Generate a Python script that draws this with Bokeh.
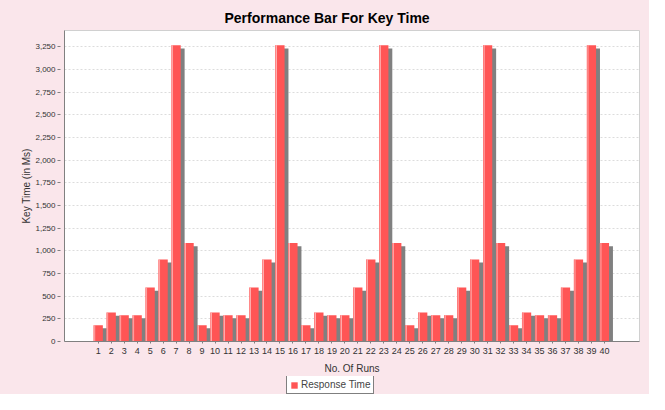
from bokeh.plotting import figure
from bokeh.models import (ColumnDataSource, Range1d, FixedTicker, NumeralTickFormatter,
                          Legend, LegendItem, Title)
from bokeh.layouts import column
from bokeh.transform import dodge
from bokeh.embed import file_html
from bokeh.resources import INLINE

# ---- data ----
runs = list(range(1, 41))
response_time = [
    180, 320, 290, 290, 595, 905, 3265, 1085,
    180, 320, 290, 290, 595, 905, 3265, 1085,
    180, 320, 290, 290, 595, 905, 3265, 1085,
    180, 320, 290, 290, 595, 905, 3265, 1085,
    180, 320, 290, 290, 595, 905, 3265, 1085,
]
y_ticks = list(range(0, 3251, 250))
title_text = "Performance Bar For Key Time"
x_label = "No. Of Runs"
y_label = "Key Time (in Ms)"
series_name = "Response Time"

# ---- styling ----
BG = "#FAE6EB"
RED = "#FF5555"
FONT = "Liberation Sans"
y_max = 3428
shadow_drop = 35  # ms equivalent of ~3px shadow drop
W = 649

src = ColumnDataSource(dict(
    x=runs,
    top=response_time,
    shadow_top=[v - shadow_drop for v in response_time],
))

p = figure(width=W, height=376, output_backend="svg", toolbar_location=None,
           x_range=Range1d(-1.6, 42.7), y_range=Range1d(0, y_max),
           background_fill_color="white", border_fill_color=BG,
           outline_line_color="#D0D0D0",
           min_border_left=64, min_border_right=10, min_border_top=30, min_border_bottom=34)

p.add_layout(Title(text=title_text, text_font=FONT, text_font_size="14px",
                   text_font_style="bold", align="left", offset=160,
                   text_color="black"), "above")

bw = 0.71
# shadow
p.vbar(x=dodge("x", 0.3), top="shadow_top", bottom=0, width=bw, source=src,
       fill_color="#808080", line_color=None)
# main bar
p.vbar(x="x", top="top", bottom=0, width=bw, source=src,
       fill_color=RED, line_color=None)
# highlight stripe (gradient look)
p.vbar(x=dodge("x", -0.27), top="top", bottom=0, width=0.06, source=src,
       fill_color="#FFC8C8", line_color=None)
p.vbar(x=dodge("x", -0.33), top="top", bottom=0, width=0.05, source=src,
       fill_color="#FF8080", line_color=None)

# axes
p.xaxis.ticker = FixedTicker(ticks=runs)
p.yaxis.ticker = FixedTicker(ticks=y_ticks)
p.yaxis.formatter = NumeralTickFormatter(format="0,0")
p.xaxis.axis_label = x_label
p.yaxis.axis_label = y_label
for ax in (p.xaxis, p.yaxis):
    ax.axis_line_color = "#808080"
    ax.major_tick_line_color = "#808080"
    ax.minor_tick_line_color = None
    ax.major_tick_out = 2
    ax.major_tick_in = 0
    ax.major_label_text_font = FONT
    ax.major_label_text_color = "#333333"
    ax.axis_label_text_font = FONT
    ax.axis_label_text_font_size = "10px"
    ax.axis_label_text_font_style = "normal"
    ax.axis_label_text_color = "#333333"
p.xaxis.major_label_text_font_size = "9px"
p.yaxis.major_label_text_font_size = "8px"
p.yaxis.major_tick_out = 7
p.yaxis.major_tick_in = -4
p.xaxis.major_label_standoff = 4
p.xaxis.axis_label_standoff = 6
p.yaxis.major_label_standoff = 2
p.yaxis.axis_label_standoff = 0

p.xgrid.grid_line_color = None
p.ygrid.ticker = FixedTicker(ticks=y_ticks)
p.ygrid.grid_line_color = "#DCDCDC"
p.ygrid.grid_line_dash = "2 2"
p.ygrid.grid_line_width = 1

# ---- legend strip (key renderer hidden; only its legend swatch is shown) ----
lg = figure(width=W, height=18, output_backend="svg", toolbar_location=None,
            x_range=Range1d(-1.6, 42.7), y_range=Range1d(0, 1),
            background_fill_color=BG, border_fill_color=BG, outline_line_color=None,
            min_border=0)
lg.xaxis.visible = False
lg.yaxis.visible = False
lg.grid.grid_line_color = None
r_key = lg.vbar(x="x", top="top", bottom=0, width=bw, source=src,
                fill_color=RED, line_color=None)
r_key.visible = False
legend = Legend(items=[LegendItem(label=series_name, renderers=[r_key])],
                orientation="horizontal", location=(222, 0),
                border_line_color="black", border_line_width=1,
                background_fill_color="white", background_fill_alpha=1,
                inactive_fill_alpha=0,
                label_text_font=FONT, label_text_font_size="10px",
                glyph_width=8, glyph_height=8, padding=3, margin=0,
                label_standoff=3, label_height=10)
lg.add_layout(legend, "center")

layout = column(p, lg, spacing=0, styles={"background-color": BG})
open("out.html", "w").write(file_html(layout, INLINE))
